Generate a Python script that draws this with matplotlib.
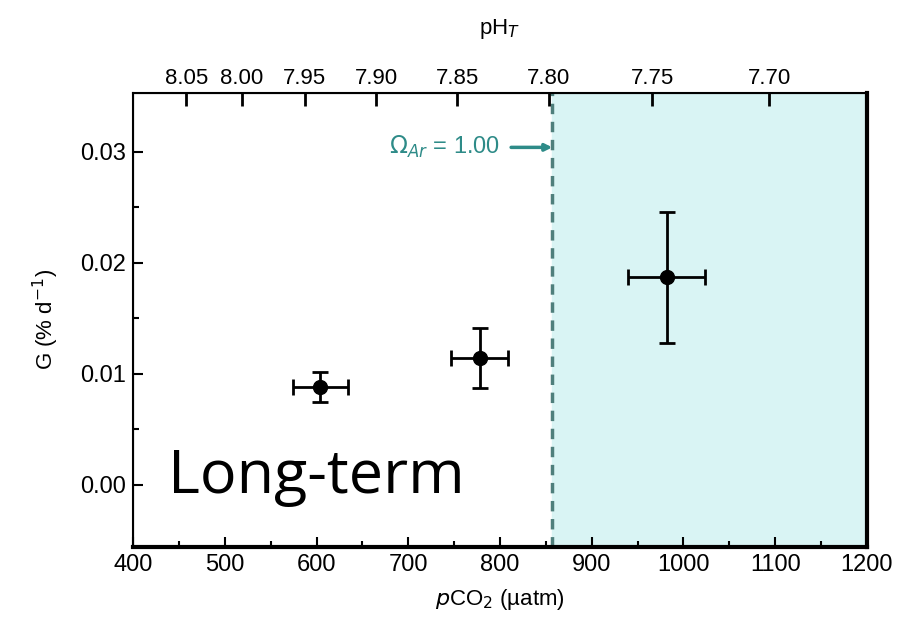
import numpy as np
import matplotlib.pyplot as plt

# data
pco2 = [604, 778, 982]
pco2_err = [30, 31, 42]
growth = [0.0088, 0.0114, 0.0187]
growth_err = [0.00135, 0.0027, 0.0059]

omega_pco2 = 857  # pCO2 where Omega_Ar = 1.00
ph_ticks = [8.05, 8.00, 7.95, 7.90, 7.85, 7.80, 7.75, 7.70]

# approximate pH(pCO2) relation used for the top axis
def to_pco2(ph):
    return 10 ** ((10.514 - np.asarray(ph)) / 0.926)

plt.rcParams['font.family'] = ['Liberation Sans', 'DejaVu Sans']
plt.rcParams['font.size'] = 17

fig = plt.figure(figsize=(9.1, 6.17), dpi=100)
ax = fig.add_axes([0.1462, 0.1135, 0.8065, 0.7358])

ax.axvspan(omega_pco2, 1200, color='#d9f4f4', zorder=0)
ax.axvline(omega_pco2, color='#4f7f7c', lw=2.5, ls=(0, (3, 2.2)), zorder=1)

ax.errorbar(pco2, growth, xerr=pco2_err, yerr=growth_err, fmt='o', color='black',
            ms=10, elinewidth=2, capsize=6, capthick=2, zorder=3)

ax.annotate('$\\Omega_{Ar}$ = 1.00', xy=(omega_pco2, 0.0304), xytext=(800, 0.0304),
            color='#2e8b88', fontsize=17, va='center', ha='right',
            arrowprops=dict(arrowstyle='-|>', color='#2e8b88', lw=2.5,
                            shrinkA=6, shrinkB=0, mutation_scale=10))

ax.text(438, 0.0007, 'Long-term', fontsize=44, family=['Open Sans', 'DejaVu Sans'],
        va='center', ha='left')

ax.set_xlim(400, 1200)
ax.set_ylim(-0.0056, 0.0353)
ax.set_xticks(np.arange(400, 1201, 100))
ax.set_xticks(np.arange(450, 1200, 100), minor=True)
ax.set_yticks([0.00, 0.01, 0.02, 0.03])
ax.set_yticks([0.005, 0.015, 0.025], minor=True)
ax.set_yticklabels(['0.00', '0.01', '0.02', '0.03'])
ax.tick_params(which='both', direction='in', top=False, right=False, width=1.5, pad=5)
ax.tick_params(which='major', length=7)
ax.tick_params(which='minor', length=4)
ax.spines['left'].set_linewidth(1.5)
ax.spines['top'].set_linewidth(1.5)
ax.spines['bottom'].set_linewidth(3)
ax.spines['right'].set_linewidth(3)

ax.set_xlabel('$p$CO$_2$ (µatm)', labelpad=8, fontsize=16)
ax.set_ylabel('G (% d$^{-1}$)', labelpad=14, fontsize=16)

top = ax.twiny()
top.set_xlim(ax.get_xlim())
top.set_xticks(to_pco2(ph_ticks))
top.set_xticklabels(['%.2f' % v for v in ph_ticks], fontsize=16)
top.tick_params(axis='x', which='major', direction='in', top=True, length=9,
                width=2, color='black', pad=3)
top.set_xlabel('pH$_T$', labelpad=24, fontsize=16)

fig.savefig('out.png', dpi=100)
